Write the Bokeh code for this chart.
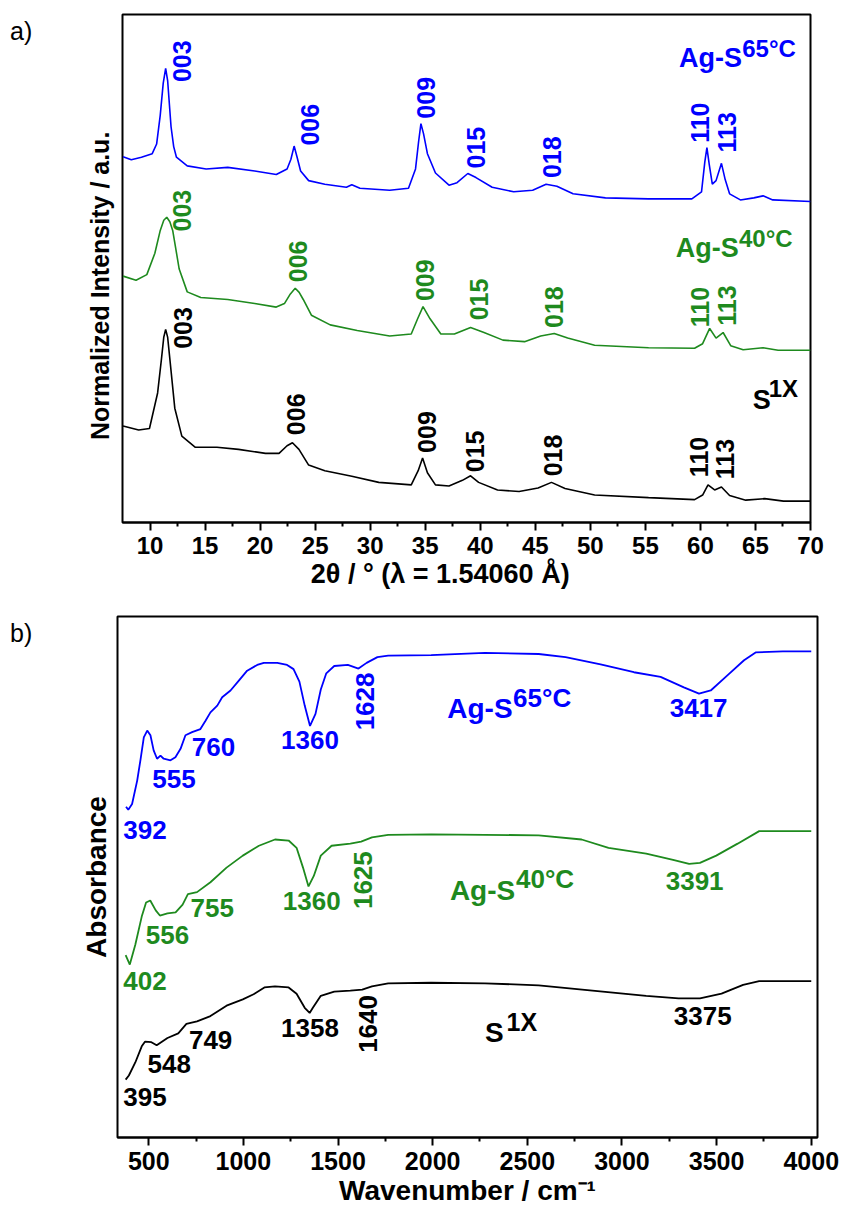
import math
from bokeh.plotting import figure
from bokeh.layouts import column, row
from bokeh.models import Range1d, FixedTicker, Div
from bokeh.core.properties import value
from bokeh.embed import file_html
from bokeh.resources import INLINE

FONT = "Liberation Sans"
BLUE = "#0000FF"
GREEN = "#1E8A1E"
BLACK = "#000000"
NB = "\u00a0"

# ---------------- Panel a: XRD ----------------
xrd_blue_x = [7.55, 8.3, 9.22, 10.20, 10.6, 10.93, 11.2, 11.42, 11.6, 11.91, 12.15, 12.40, 13.38, 15.10, 17.06,
              19.51, 21.47, 22.45, 22.8, 23.09, 23.35, 23.68, 24.41, 25.88, 27.84, 28.33, 29.07, 31.77, 33.48,
              34.12, 34.4, 34.61, 34.85, 35.20, 35.93, 37.16, 37.89, 38.87, 39.61, 41.08, 43.04, 44.76, 45.98,
              46.96, 48.43, 51.37, 55.29, 59.22, 60.10, 60.40, 60.59, 60.80, 61.08, 61.42, 61.91, 62.25, 62.65,
              63.63, 64.85, 65.69, 66.57, 70.0]
xrd_blue_y = [72.0, 71.4, 71.9, 72.6, 74.5, 80.2, 86.5, 89.4, 87.0, 77.9, 74.0, 71.9, 70.2, 69.6, 69.9,
              69.2, 68.5, 69.6, 71.5, 74.1, 72.0, 69.2, 67.3, 66.6, 66.0, 66.5, 65.8, 65.4, 65.8,
              69.6, 75.0, 78.5, 76.5, 72.6, 68.8, 66.4, 66.9, 68.7, 67.9, 66.0, 65.1, 65.4, 66.6,
              66.2, 64.7, 63.9, 63.7, 63.7, 65.1, 71.0, 73.8, 70.5, 66.6, 67.3, 70.7, 67.5, 64.7,
              63.5, 63.9, 64.3, 63.5, 63.2]

xrd_green_x = [7.55, 8.73, 9.71, 10.44, 10.93, 11.25, 11.52, 11.8, 12.06, 12.65, 13.38, 14.61, 17.06, 19.51,
               21.47, 22.21, 22.75, 23.19, 23.55, 23.92, 24.66, 26.37, 28.82, 31.77, 33.73, 34.31, 34.80,
               35.44, 36.42, 37.65, 39.12, 40.34, 42.06, 44.02, 45.49, 46.72, 47.94, 50.39, 55.29, 59.47,
               60.20, 60.84, 61.42, 62.06, 62.75, 63.88, 65.69, 67.06, 70.0]
xrd_green_y = [48.5, 47.7, 48.8, 53.0, 57.5, 59.5, 60.1, 59.2, 57.5, 49.9, 45.4, 44.3, 43.9, 43.1,
               42.4, 43.1, 45.0, 46.1, 45.3, 43.9, 40.8, 38.9, 37.8, 36.7, 37.1, 40.1, 42.5,
               40.1, 37.1, 37.1, 38.4, 37.4, 35.9, 35.6, 36.7, 37.2, 36.3, 34.9, 34.4, 34.3,
               35.2, 38.2, 36.3, 37.4, 34.8, 34.0, 34.4, 33.9, 33.9]

xrd_black_x = [7.55, 8.97, 9.95, 10.69, 11.03, 11.25, 11.42, 11.6, 11.81, 12.25, 12.89, 14.12, 16.08, 18.04,
               20.49, 21.72, 22.45, 22.94, 23.53, 24.41, 25.88, 28.33, 30.78, 33.73, 34.36, 34.76, 35.20,
               35.93, 37.16, 38.38, 39.12, 39.85, 41.57, 43.53, 45.25, 46.47, 47.70, 50.39, 55.29, 59.47,
               60.20, 60.69, 61.29, 61.91, 62.65, 64.12, 65.84, 67.55, 70.0]
xrd_black_y = [19.0, 18.2, 18.5, 25.5, 32.0, 36.5, 38.0, 36.5, 32.0, 22.5, 17.0, 14.8, 14.8, 14.4,
               13.6, 13.6, 15.1, 15.7, 14.4, 11.3, 10.2, 9.1, 7.9, 7.4, 10.2, 12.7, 9.8,
               7.4, 7.2, 8.3, 9.2, 7.9, 6.4, 6.1, 6.8, 7.9, 6.7, 5.4, 4.9, 4.5,
               5.4, 7.4, 6.4, 7.0, 5.3, 4.4, 4.7, 4.2, 4.2]

hkl_labels = ["003", "006", "009", "015", "018", "110", "113"]
hkl_blue_x = [12.94, 24.5, 35.1, 39.6, 46.5, 59.95, 62.4]
hkl_blue_y = [90.8, 78.3, 83.6, 73.8, 71.9, 78.7, 76.8]
hkl_green_x = [12.9, 23.4, 35.0, 39.9, 46.7, 59.95, 62.4]
hkl_green_y = [61.4, 51.4, 47.7, 43.9, 42.4, 42.4, 42.7]
hkl_black_x = [13.0, 23.3, 35.2, 39.5, 46.6, 59.85, 62.2]
hkl_black_y = [38.3, 21.3, 17.8, 14.0, 13.2, 12.9, 12.5]

xrd_xticks = [10, 15, 20, 25, 30, 35, 40, 45, 50, 55, 60, 65, 70]
xrd_xminor = [12.5, 17.5, 22.5, 27.5, 32.5, 37.5, 42.5, 47.5, 52.5, 57.5, 62.5, 67.5]

# ---------------- Panel b: FTIR ----------------
ir_blue_x = [380, 392, 412, 439, 456, 474, 492, 509, 526, 544, 562, 579, 615, 641, 668, 694, 729, 773, 800,
             826, 862, 888, 932, 976, 1020, 1073, 1108, 1179, 1231, 1265, 1296, 1324, 1352, 1381, 1409, 1438,
             1480, 1552, 1608, 1651, 1708, 1765, 1992, 2276, 2560, 2702, 2887, 3063, 3204, 3327, 3407, 3469,
             3557, 3645, 3706, 3850, 4000]
ir_blue_y = [63.5, 62.9, 64.0, 68.5, 72.4, 76.8, 78.1, 77.2, 74.3, 72.7, 73.3, 72.7, 72.4, 73.0, 74.6, 77.2,
             77.8, 78.4, 80.0, 81.6, 82.9, 84.5, 85.8, 87.7, 89.6, 90.7, 91.1, 91.1, 90.7, 89.9, 87.5, 82.9,
             79.0, 81.3, 86.0, 89.1, 90.5, 90.7, 90.0, 91.1, 92.2, 92.5, 92.6, 93.0, 92.8, 92.2, 90.8, 89.3,
             88.4, 86.4, 85.2, 85.8, 88.7, 91.6, 93.1, 93.3, 93.3]

ir_green_x = [378, 400, 429, 463, 486, 508, 537, 559, 599, 642, 679, 707, 755, 826, 911, 997, 1082, 1167,
              1239, 1281, 1315, 1344, 1372, 1409, 1466, 1565, 1622, 1679, 1765, 1992, 2276, 2560, 2787, 2929,
              3128, 3270, 3355, 3412, 3498, 3611, 3725, 3839, 4000]
ir_green_y = [35.0, 33.2, 37.0, 42.4, 45.1, 45.5, 43.6, 42.6, 43.0, 43.2, 44.7, 46.7, 47.1, 49.0, 51.8,
              54.1, 56.0, 57.2, 57.0, 55.6, 51.8, 48.2, 50.2, 54.1, 56.0, 56.4, 56.8, 57.6, 58.1, 58.2,
              58.1, 58.0, 57.2, 55.6, 54.5, 53.3, 52.5, 52.7, 54.1, 56.4, 58.8, 58.8, 58.8]

ir_black_x = [378, 395, 429, 463, 480, 514, 542, 599, 656, 699, 755, 826, 911, 997, 1054, 1111, 1167, 1239,
              1281, 1324, 1350, 1367, 1409, 1480, 1565, 1628, 1679, 1765, 1992, 2276, 2560, 2844, 3128, 3299,
              3412, 3526, 3640, 3725, 4000]
ir_black_y = [11.1, 11.9, 14.4, 17.5, 18.4, 18.3, 17.7, 19.1, 20.0, 21.8, 22.3, 23.3, 25.3, 26.5, 27.5,
              28.8, 29.0, 28.8, 27.6, 24.9, 23.9, 24.9, 27.2, 28.0, 28.2, 28.4, 29.0, 29.6, 29.7, 29.6,
              29.2, 28.2, 27.2, 26.7, 26.7, 27.6, 29.3, 30.0, 30.0]

ir_blue_lab = ["392", "555", "760", "1360", "3417"]
ir_blue_lab_x = [480, 633, 842, 1352, 3405]
ir_blue_lab_y = [59.1, 68.9, 75.0, 76.3, 82.5]
ir_green_lab = ["402", "556", "755", "1360", "3391"]
ir_green_lab_x = [480, 599, 835, 1361, 3384]
ir_green_lab_y = [30.1, 38.9, 44.0, 45.3, 49.3]
ir_black_lab = ["395", "548", "749", "1358", "3375"]
ir_black_lab_x = [480, 608, 827, 1352, 3427]
ir_black_lab_y = [7.8, 14.2, 18.8, 21.0, 23.3]
ir_rot_lab = ["1628", "1625", "1640"]
ir_rot_lab_x = [1640, 1631, 1659]
ir_rot_lab_y = [83.7, 49.4, 21.8]

ir_xticks = [500, 1000, 1500, 2000, 2500, 3000, 3500, 4000]
ir_xminor = [750, 1250, 1750, 2250, 2750, 3250, 3750]


def style(p, ticks, minor, tick_font, xlabel, ylabel, xl_size, yl_size, y_standoff):
    p.outline_line_color = "black"
    p.outline_line_width = 2
    p.xgrid.visible = False
    p.ygrid.visible = False
    xa = p.xaxis[0]
    xa.ticker = FixedTicker(ticks=ticks, minor_ticks=minor)
    xa.axis_line_width = 2
    xa.major_tick_line_width = 2
    xa.minor_tick_line_width = 2
    xa.major_tick_out = 8
    xa.major_tick_in = 0
    xa.minor_tick_out = 4
    xa.minor_tick_in = 0
    xa.major_label_standoff = 6
    xa.major_label_text_font = FONT
    xa.major_label_text_font_style = "bold"
    xa.major_label_text_font_size = tick_font
    xa.major_label_text_color = "black"
    xa.axis_label = xlabel
    xa.axis_label_text_font = FONT
    xa.axis_label_text_font_style = "bold"
    xa.axis_label_text_font_size = xl_size
    xa.axis_label_text_color = "black"
    xa.axis_label_standoff = 2
    ya = p.yaxis[0]
    ya.ticker = FixedTicker(ticks=[])
    ya.axis_line_color = None
    ya.major_tick_line_color = None
    ya.minor_tick_line_color = None
    ya.major_tick_out = 0
    ya.minor_tick_out = 0
    ya.axis_label = ylabel
    ya.axis_label_text_font = FONT
    ya.axis_label_text_font_style = "bold"
    ya.axis_label_text_font_size = yl_size
    ya.axis_label_text_color = "black"
    ya.axis_label_standoff = y_standoff


def txt(p, xs, ys, texts, color, size, angle=0.0, align="center", baseline="middle"):
    p.text(x=xs, y=ys, text=texts, text_color=color, text_font=value(FONT), text_font_style="bold",
           text_font_size=size, angle=angle, text_align=align, text_baseline=baseline)


def panel_tag(t, top):
    return Div(text=t, width=30, height=40, margin=(top, 0, 0, 10),
               styles={"font-family": FONT, "font-size": "25px", "color": "black", "line-height": "1.2"})


# ---- figure a ----
pa = figure(frame_width=688, frame_height=508, x_range=Range1d(7.5, 70), y_range=Range1d(0, 100),
            output_backend="svg", toolbar_location=None,
            min_border_left=82, min_border_right=29, min_border_top=14, min_border_bottom=78)
style(pa, xrd_xticks, xrd_xminor, "24px", "2θ / ° (λ = 1.54060 Å)" + NB * 7,
      "Normalized Intensity / a.u." + NB * 5, "27px", "25px", 9)
pa.line(xrd_blue_x, xrd_blue_y, line_color=BLUE, line_width=1.6)
pa.line(xrd_green_x, xrd_green_y, line_color=GREEN, line_width=1.6)
pa.line(xrd_black_x, xrd_black_y, line_color=BLACK, line_width=1.6)
R = math.pi / 2
txt(pa, hkl_blue_x, hkl_blue_y, hkl_labels, BLUE, "25px", angle=R)
txt(pa, hkl_green_x, hkl_green_y, hkl_labels, GREEN, "25px", angle=R)
txt(pa, hkl_black_x, hkl_black_y, hkl_labels, BLACK, "25px", angle=R)
txt(pa, [58.05], [91.5], ["Ag-S"], BLUE, "27px", align="left", baseline="alphabetic")
txt(pa, [63.8], [93.4], ["65°C"], BLUE, "24px", align="left", baseline="alphabetic")
txt(pa, [57.75], [54.1], ["Ag-S"], GREEN, "27px", align="left", baseline="alphabetic")
txt(pa, [63.5], [56.0], ["40°C"], GREEN, "24px", align="left", baseline="alphabetic")
txt(pa, [64.75], [24.2], ["S"], BLACK, "27px", align="left", baseline="alphabetic")
txt(pa, [66.2], [26.3], ["1X"], BLACK, "24px", align="left", baseline="alphabetic")

# ---- figure b ----
pb = figure(frame_width=700, frame_height=521, x_range=Range1d(335, 4033), y_range=Range1d(0, 100),
            output_backend="svg", toolbar_location=None,
            min_border_left=77, min_border_right=22, min_border_top=16, min_border_bottom=70)
style(pb, ir_xticks, ir_xminor, "25px", "Wavenumber / cm⁻¹", "Absorbance", "28px", "28px", 6)
pb.line(ir_blue_x, ir_blue_y, line_color=BLUE, line_width=1.8)
pb.line(ir_green_x, ir_green_y, line_color=GREEN, line_width=1.8)
pb.line(ir_black_x, ir_black_y, line_color=BLACK, line_width=1.8)
txt(pb, ir_blue_lab_x, ir_blue_lab_y, ir_blue_lab, BLUE, "26px")
txt(pb, ir_green_lab_x, ir_green_lab_y, ir_green_lab, GREEN, "26px")
txt(pb, ir_black_lab_x, ir_black_lab_y, ir_black_lab, BLACK, "26px")
txt(pb, ir_rot_lab_x, ir_rot_lab_y, ir_rot_lab, [BLUE, GREEN, BLACK], "26px", angle=R)
txt(pb, [2077], [82.3], ["Ag-S"], BLUE, "28px", align="left", baseline="alphabetic")
txt(pb, [2425], [84.4], ["65°C"], BLUE, "26px", align="left", baseline="alphabetic")
txt(pb, [2091], [47.5], ["Ag-S"], GREEN, "28px", align="left", baseline="alphabetic")
txt(pb, [2440], [49.6], ["40°C"], GREEN, "26px", align="left", baseline="alphabetic")
txt(pb, [2276], [20.2], ["S"], BLACK, "28px", align="left", baseline="alphabetic")
txt(pb, [2390], [22.2], ["1X"], BLACK, "25px", align="left", baseline="alphabetic")

layout = column(row(panel_tag("a)", 16), pa, spacing=0),
                row(panel_tag("b)", 18), pb, spacing=0), spacing=0)
open("out.html", "w").write(file_html(layout, INLINE))
